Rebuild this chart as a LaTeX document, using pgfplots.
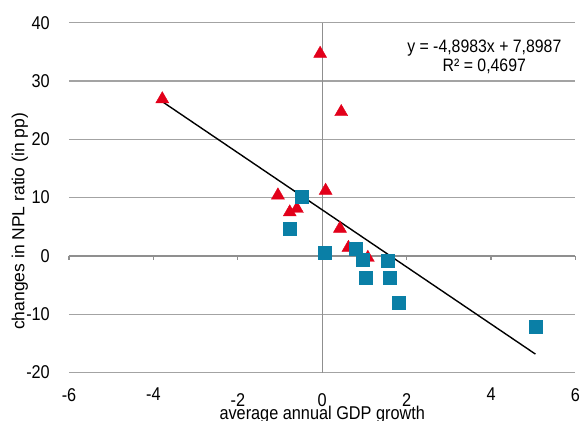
\documentclass[border=0pt]{standalone}
\usepackage{fontspec}
\setmainfont{Liberation Sans}[FakeStretch=0.88]
\newfontfamily\ylabfont{Liberation Sans}
\usepackage{pgfplots}
\pgfplotsset{compat=1.18}

\definecolor{npired}{HTML}{E2001A}
\definecolor{npiblue}{HTML}{0A7FA6}
\definecolor{gridgray}{HTML}{A3A3A3}
\definecolor{axgray}{HTML}{8F8F8F}

\begin{document}
\begin{tikzpicture}
\begin{axis}[
    at={(0,0)}, anchor=south west,
    scale only axis,
    width=506.5bp, height=349.8bp,
    xmin=-6, xmax=6,
    ymin=-20, ymax=40,
    axis line style={draw=none},
    major tick length=0pt,
    xtick={-6,-4,4,6},
    xticklabels={-6,-4,4,6},
    extra x ticks={-2,0,2},
    extra x tick labels={-2,0,2},
    extra x tick style={xticklabel style={yshift=-5bp}},
    ytick={-20,-10,0,10,20,30,40},
    yticklabels={-20,-10,0,10,20,30,40},
    ymajorgrids,
    grid style={gridgray, line width=1.4bp},
    ticklabel style={font=\fontsize{18.5bp}{20bp}\selectfont, inner sep=0pt},
    xticklabel style={anchor=north, yshift=-15.5bp},
    yticklabel style={anchor=east, xshift=-19bp},
    xlabel={average annual GDP growth},
    xlabel style={font=\fontsize{18.5bp}{20bp}\selectfont, at={(axis description cs:0.5,0)}, anchor=base, yshift=-47bp, inner sep=0pt},
    ylabel={changes in NPL ratio (in pp)},
    ylabel style={font=\ylabfont\fontsize{17.5bp}{20bp}\selectfont, at={(axis description cs:-0.097,0.432)}, anchor=center, rotate=0, inner sep=0pt},
    clip=false,
]
% axes through the origin
\draw[axgray, line width=1.4bp] (axis cs:0,-20) -- (axis cs:0,40);
\draw[axgray, line width=1.4bp] (axis cs:-6,0) -- (axis cs:6,0);
\pgfplotsinvokeforeach{-6,-4,-2,0,2,4,6}{
  \draw[axgray, line width=1.2bp] (axis cs:#1,0) -- ([yshift=-4bp]axis cs:#1,0);
}

% trendline
\addplot[black, line width=1.4bp] coordinates {(-3.8,26.51) (5.05,-16.84)};

% triangles
\addplot[only marks, mark=triangle*, mark size=7.5bp, color=npired,
  mark options={yshift=-1.8bp}] coordinates {
  (-3.79,27.2) (-0.05,35.0) (0.45,25.0) (0.08,11.5) (-1.05,10.7)
  (-0.77,7.8) (-0.60,8.4) (0.42,5.0) (0.62,1.7) (1.08,0.0)
};

% squares
\addplot[only marks, mark=square*, mark size=6.5bp, color=npiblue] coordinates {
  (-0.49,10.2) (-0.76,4.6) (0.05,0.6) (0.80,1.3) (0.95,-0.7)
  (1.54,-0.9) (1.04,-3.7) (1.59,-3.7) (1.82,-8.1) (5.05,-12.1)
};

\node[align=center, font=\fontsize{18bp}{19bp}\selectfont, inner sep=0pt]
  at (axis cs:3.84,34.2) {y = -4,8983x + 7,8987\\R² = 0,4697};
\end{axis}
\pgfresetboundingbox
\useasboundingbox (-69bp,-48.5bp) rectangle (512bp,372.5bp);
\end{tikzpicture}
\end{document}
